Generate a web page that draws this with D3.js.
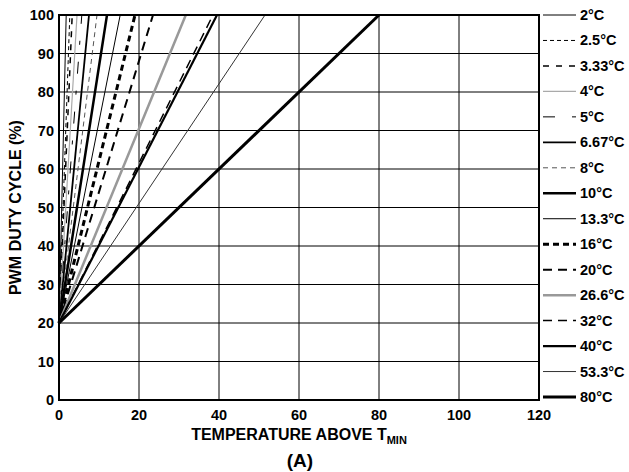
<!DOCTYPE html>
<html>
<head>
<meta charset="utf-8">
<script src="https://cdn.jsdelivr.net/npm/d3@7"></script>
<style>
  body { margin: 0; background: #fff; }
  text { font-family: Arial, "Liberation Sans", sans-serif; font-weight: bold; }
</style>
</head>
<body>
<svg id="chart" width="629" height="472"></svg>
<script>
// T range labels (legend) and where each drawn line reaches 100%
const ranges = ["2°C", "2.5°C", "3.33°C", "4°C", "5°C", "6.67°C", "8°C", "10°C",
  "13.3°C", "16°C", "20°C", "26.6°C", "32°C", "40°C", "53.3°C", "80°C"];
const tEnd = [1.8, 2.7, 3.3, 4.5, 5.7, 7.5, 9.5, 12, 15.3, 19, 23.5, 31.7, 38.5, 39.5, 51.5, 80];
const dutyStart = 20;
const dutyEnd = 100;
const xTicks = [0, 20, 40, 60, 80, 100, 120];
const yTicks = [0, 10, 20, 30, 40, 50, 60, 70, 80, 90, 100];

// line look per series
const styles = [
  { w: 1, c: "#000", d: "none" },
  { w: 1, c: "#000", d: "4,3" },
  { w: 1.5, c: "#000", d: "6,7" },
  { w: 1.2, c: "#aaa", d: "none" },
  { w: 1, c: "#000", d: "12,17,4,17" },
  { w: 1.8, c: "#000", d: "none" },
  { w: 1, c: "#555", d: "5,4" },
  { w: 2.5, c: "#000", d: "none" },
  { w: 1, c: "#000", d: "none" },
  { w: 3, c: "#000", d: "6,4" },
  { w: 2, c: "#000", d: "9,6" },
  { w: 2.5, c: "#999", d: "none" },
  { w: 1.5, c: "#000", d: "9,6" },
  { w: 2.2, c: "#000", d: "none" },
  { w: 1, c: "#333", d: "none" },
  { w: 3, c: "#000", d: "none" }
];

const svg = d3.select("#chart");
const x = d3.scaleLinear().domain([0, 120]).range([59, 539]);
const y = d3.scaleLinear().domain([0, 100]).range([400, 15]);

// grid
svg.append("g")
  .selectAll("line")
  .data(xTicks.slice(1, -1))
  .join("line")
  .attr("x1", d => x(d)).attr("x2", d => x(d))
  .attr("y1", y(0)).attr("y2", y(100))
  .attr("stroke", "#000").attr("stroke-width", 1);

svg.append("g")
  .selectAll("line")
  .data(yTicks.slice(1, -1))
  .join("line")
  .attr("x1", x(0)).attr("x2", x(120))
  .attr("y1", d => y(d)).attr("y2", d => y(d))
  .attr("stroke", "#000").attr("stroke-width", 1);

// series lines
svg.append("g")
  .selectAll("line")
  .data(tEnd)
  .join("line")
  .attr("x1", x(0)).attr("y1", y(dutyStart))
  .attr("x2", d => x(d)).attr("y2", y(dutyEnd))
  .attr("stroke", (d, i) => styles[i].c)
  .attr("stroke-width", (d, i) => styles[i].w)
  .attr("stroke-dasharray", (d, i) => styles[i].d);

// frame
svg.append("rect")
  .attr("x", x(0)).attr("y", y(100))
  .attr("width", x(120) - x(0)).attr("height", y(0) - y(100))
  .attr("fill", "none").attr("stroke", "#000").attr("stroke-width", 2);

// tick labels
svg.append("g")
  .selectAll("text")
  .data(xTicks)
  .join("text")
  .attr("x", d => x(d)).attr("y", 420)
  .attr("text-anchor", "middle")
  .attr("font-size", "14.5px")
  .text(d => d);

svg.append("g")
  .selectAll("text")
  .data(yTicks)
  .join("text")
  .attr("x", 54).attr("y", d => y(d) + 5)
  .attr("text-anchor", "end")
  .attr("font-size", "14.5px")
  .text(d => d);

// axis titles
const xt = svg.append("text")
  .attr("x", 299).attr("y", 440)
  .attr("text-anchor", "middle")
  .attr("font-size", "16px");
xt.append("tspan").text("TEMPERATURE ABOVE T");
xt.append("tspan").attr("font-size", "11px").attr("dy", 4).text("MIN");

svg.append("text")
  .attr("transform", `translate(21,${(y(0) + y(100)) / 2}) rotate(-90)`)
  .attr("text-anchor", "middle")
  .attr("font-size", "16px")
  .text("PWM DUTY CYCLE (%)");

svg.append("text")
  .attr("x", 300).attr("y", 467)
  .attr("text-anchor", "middle")
  .attr("font-size", "19px")
  .text("(A)");

// legend
const legY = d3.scalePoint().domain(ranges).range([15, 397]);
const leg = svg.append("g");
leg.selectAll("line")
  .data(ranges)
  .join("line")
  .attr("x1", 543).attr("x2", 576)
  .attr("y1", d => legY(d)).attr("y2", d => legY(d))
  .attr("stroke", (d, i) => styles[i].c)
  .attr("stroke-width", (d, i) => styles[i].w)
  .attr("stroke-dasharray", (d, i) => styles[i].d);
leg.selectAll("text")
  .data(ranges)
  .join("text")
  .attr("x", 580).attr("y", d => legY(d) + 5)
  .attr("font-size", "14.5px")
  .text(d => d);
</script>
</body>
</html>
